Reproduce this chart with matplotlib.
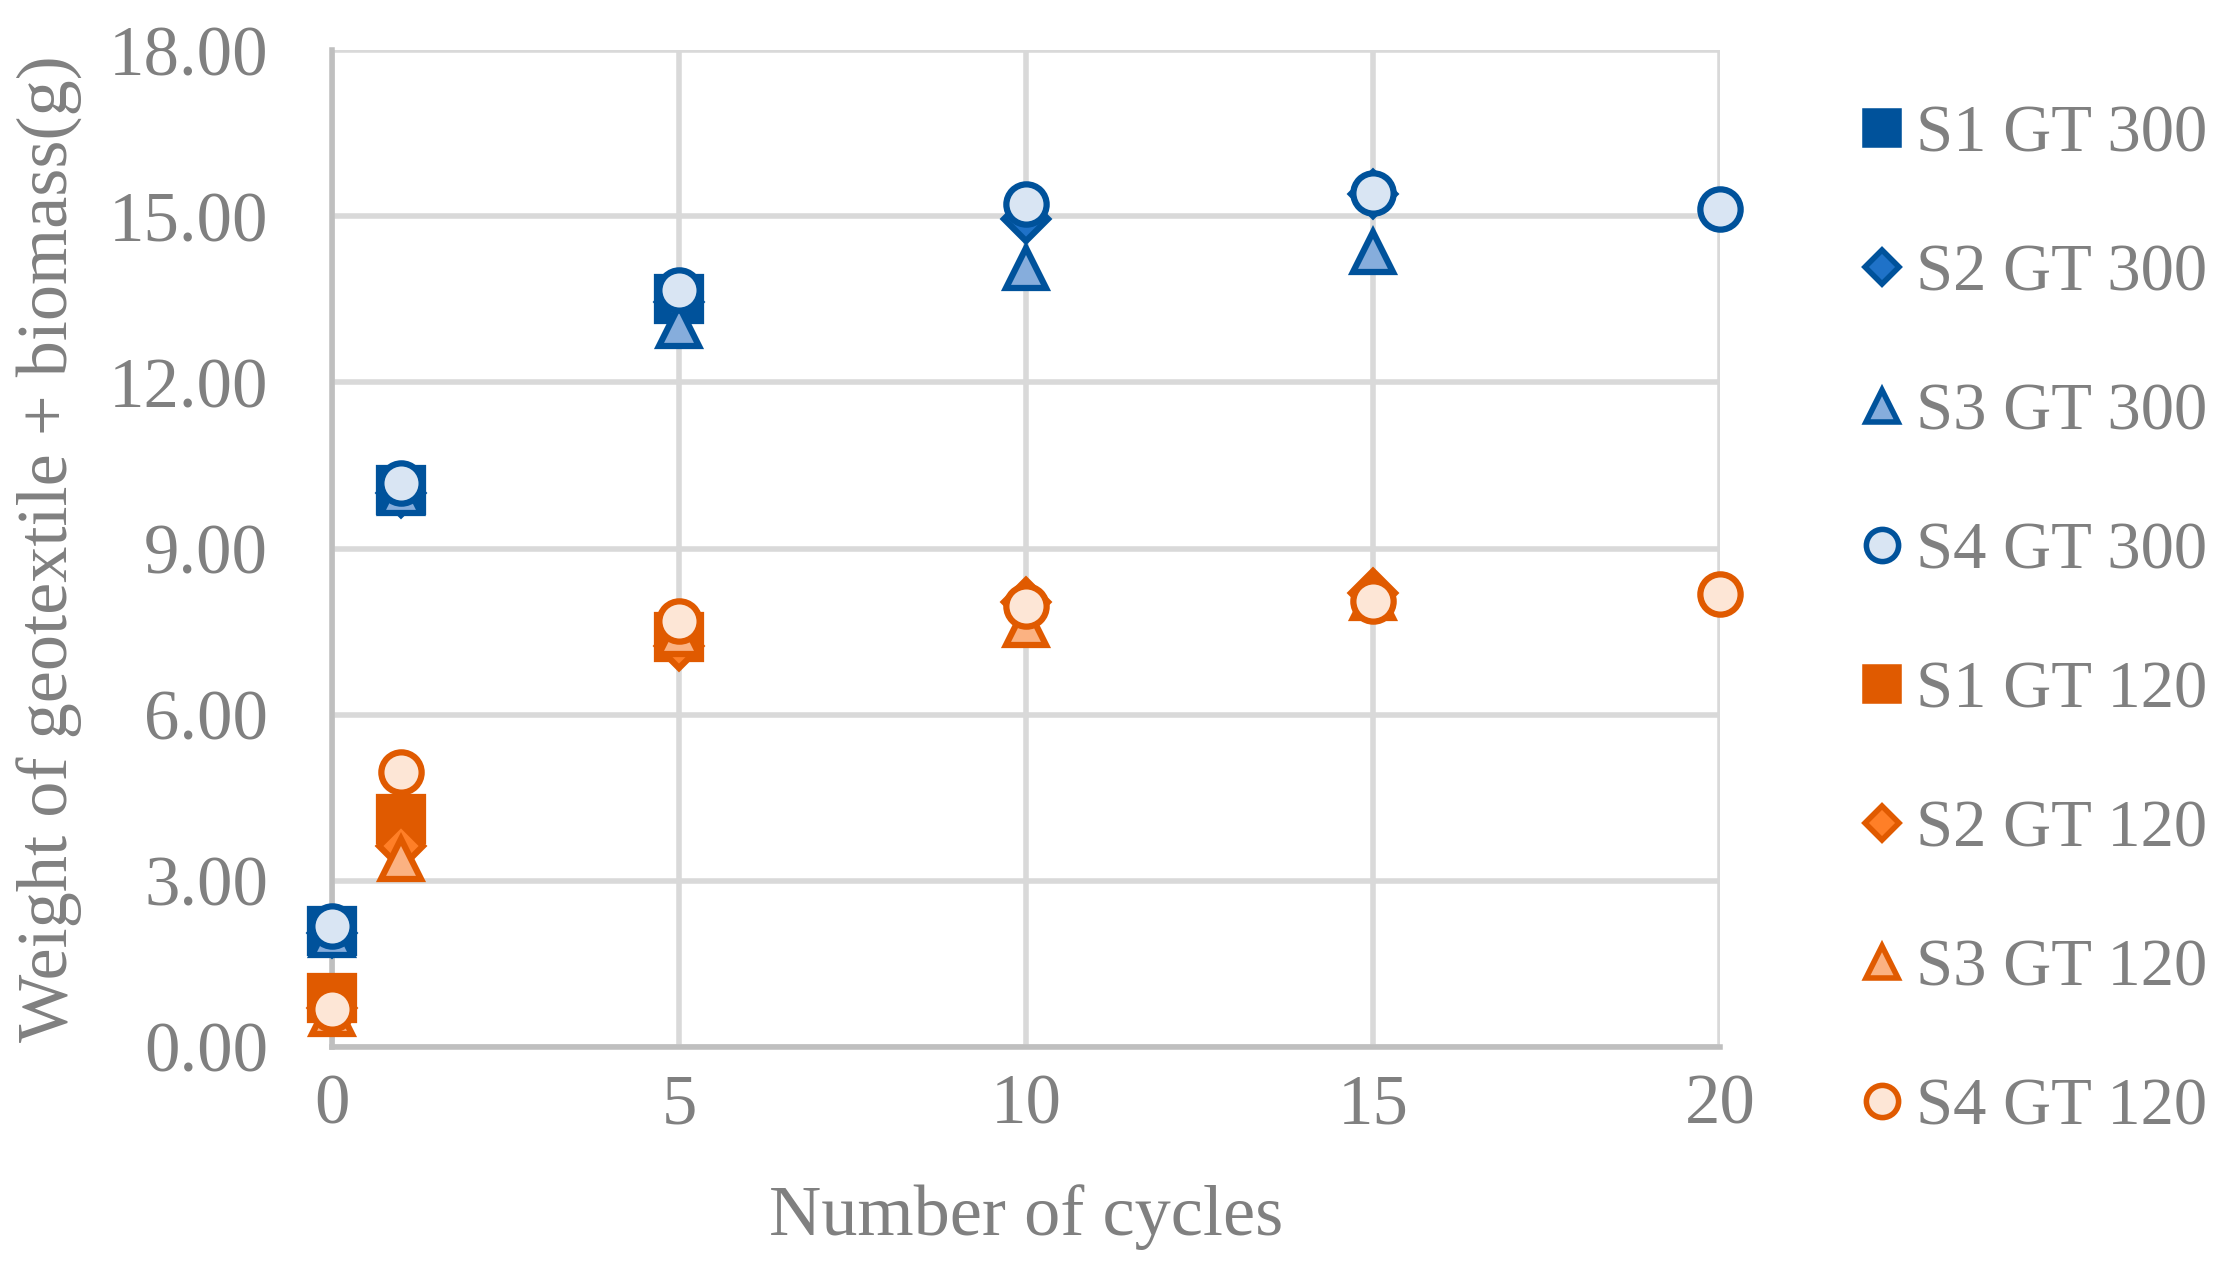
import matplotlib
matplotlib.use("Agg")
import matplotlib.pyplot as plt
from matplotlib.lines import Line2D

# ---- data ----
cycles_s1 = [0, 1, 5]
cycles_s23 = [0, 1, 5, 10, 15]
cycles_s4 = [0, 1, 5, 10, 15, 20]

s1_gt300 = [2.10, 10.05, 13.50]
s2_gt300 = [2.05, 10.00, 13.45, 14.94, 15.40]
s3_gt300 = [2.02, 10.00, 13.02, 14.06, 14.36]
s4_gt300 = [2.19, 10.19, 13.67, 15.22, 15.41, 15.13]

s1_gt120 = [0.88, 4.12, 7.40]
s2_gt120 = [0.70, 3.62, 7.24, 8.04, 8.20]
s3_gt120 = [0.60, 3.40, 7.45, 7.61, 8.10]
s4_gt120 = [0.68, 4.97, 7.69, 7.96, 8.06, 8.18]

labels = ["S1 GT 300", "S2 GT 300", "S3 GT 300", "S4 GT 300",
          "S1 GT 120", "S2 GT 120", "S3 GT 120", "S4 GT 120"]
y_ticks = [0, 3, 6, 9, 12, 15, 18]
x_ticks = [0, 5, 10, 15, 20]

# ---- styles ----
BLUE = "#00529B"
ORANGE = "#E05A00"
TEXT = "#808080"
styles = [
    dict(marker="s", mfc=BLUE, mec=BLUE, ms=31),
    dict(marker="D", mfc="#1F72C8", mec=BLUE, ms=22),
    dict(marker="^", mfc="#86ADDC", mec=BLUE, ms=29),
    dict(marker="o", mfc="#D9E5F3", mec=BLUE, ms=29),
    dict(marker="s", mfc=ORANGE, mec=ORANGE, ms=31),
    dict(marker="D", mfc="#FF7F27", mec=ORANGE, ms=22),
    dict(marker="^", mfc="#FBB282", mec=ORANGE, ms=29),
    dict(marker="o", mfc="#FDE6D6", mec=ORANGE, ms=29),
]
series = [
    (cycles_s1, s1_gt300), (cycles_s23, s2_gt300), (cycles_s23, s3_gt300), (cycles_s4, s4_gt300),
    (cycles_s1, s1_gt120), (cycles_s23, s2_gt120), (cycles_s23, s3_gt120), (cycles_s4, s4_gt120),
]

plt.rcParams["font.family"] = ["Liberation Serif", "DejaVu Serif"]
W, H = 2233, 1277
fig = plt.figure(figsize=(W / 100, H / 100), dpi=100)
L, R, T, B = 332, 1720, 50, 1047
ax = fig.add_axes([L / W, 1 - B / H, (R - L) / W, (B - T) / H])

handles = []
for (xs, ys), st, lab in zip(series, styles, labels):
    ax.plot(xs, ys, linestyle="none", marker=st["marker"], markersize=st["ms"],
            markerfacecolor=st["mfc"], markeredgecolor=st["mec"], markeredgewidth=4.5,
            clip_on=False, zorder=5, label=lab)
    handles.append(Line2D([], [], linestyle="none", marker=st["marker"],
                          markersize=st["ms"] * 0.8, markerfacecolor=st["mfc"],
                          markeredgecolor=st["mec"], markeredgewidth=4.0))

ax.set_xlim(0, 20)
ax.set_ylim(0, 18)
ax.set_xticks(x_ticks)
ax.set_yticks(y_ticks)
ax.set_yticklabels([f"{v:.2f}" for v in y_ticks])
ax.grid(True, color="#D9D9D9", linewidth=4)
ax.set_axisbelow(True)
for side in ["top", "right"]:
    ax.spines[side].set_visible(False)
for side in ["left", "bottom"]:
    ax.spines[side].set_color("#BFBFBF")
    ax.spines[side].set_linewidth(4)
    ax.spines[side].set_zorder(3)
ax.tick_params(length=0, labelsize=51, labelcolor=TEXT)
ax.tick_params(axis="y", pad=46)
ax.tick_params(axis="x", pad=19)

ax.set_xlabel("Number of cycles", fontsize=52, color=TEXT, labelpad=33)
ax.set_ylabel("Weight of geotextile + biomass(g)", fontsize=52, color=TEXT, labelpad=18)

leg = fig.legend(handles=handles, labels=labels, loc="upper left",
                 bbox_to_anchor=(1829 / W, 1 - 78 / H), frameon=False,
                 fontsize=48, labelcolor=TEXT, handlelength=0.8, handletextpad=0.1,
                 labelspacing=1.17, borderaxespad=0)

fig.savefig("out.png", dpi=100)
